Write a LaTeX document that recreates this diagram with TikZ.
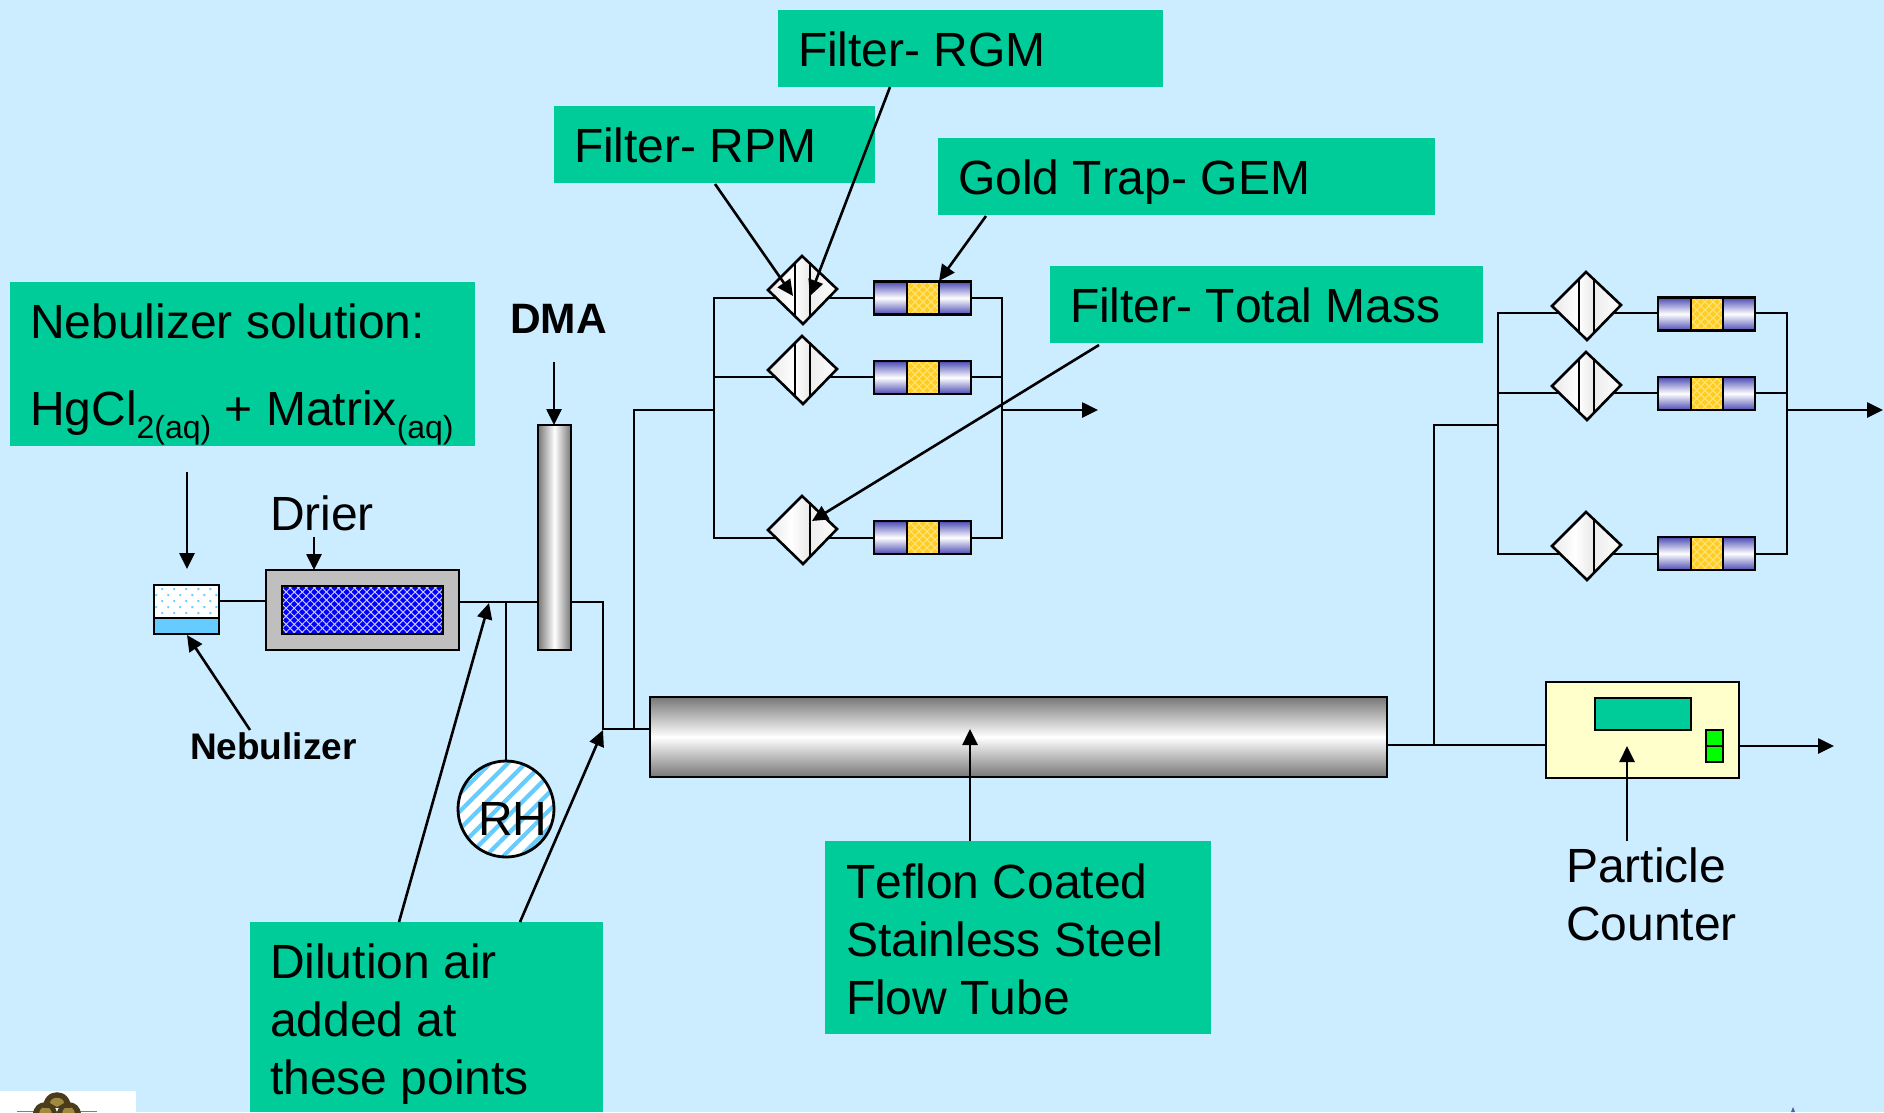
\documentclass[tikz,border=0pt]{standalone}
\usepackage{fontspec}
\setmainfont[Kerning=Off,Ligatures=NoCommon]{Liberation Sans}
\usetikzlibrary{arrows.meta,patterns.meta,calc}
\definecolor{bgblue}{HTML}{CCECFF}
\definecolor{teal}{HTML}{00CC99}
\definecolor{skyb}{HTML}{66CCFF}
\definecolor{graybox}{HTML}{BFBFBF}
\definecolor{capblue}{HTML}{4A4AB4}
\definecolor{gold}{HTML}{FFCC22}
\definecolor{goldl}{HTML}{FFE680}
\definecolor{cream}{HTML}{FFFFCC}
\definecolor{lime}{HTML}{00FF00}
\definecolor{tubeg}{HTML}{777777}
\definecolor{logod}{HTML}{4A3B1A}
\definecolor{logog}{HTML}{A08A40}
\definecolor{logob}{HTML}{8A7A70}
\tikzset{
  every node/.append style={outer sep=0pt},
  lbl/.style={anchor=base west,inner sep=0pt,font=\fontsize{48}{48}\selectfont},
  blbl/.style={anchor=base west,inner sep=0pt,font=\bfseries\fontsize{#1}{#1}\selectfont},
  gbox/.style={anchor=north west,inner sep=0pt,fill=teal,draw=none},
  pipe/.style={draw=black,line width=2.6pt},
  arr/.style={draw=black,line width=2.6pt,-{Triangle[length=16pt,width=15pt]}},
  pics/filterdia/.style={code={
    \begin{scope}
      \clip (-35,0) -- (-1,-34) -- (34,-1) -- (0,34) -- cycle;
      \shade[left color=black!9,right color=white] (-36,-36) rectangle (-8,36);
      \shade[left color=white,right color=black!9] (-8,-36) rectangle (7,36);
      \shade[left color=black!7,right color=white] (7,-36) rectangle (36,36);
      \draw[line width=2.6pt] (-8,-36) -- (-8,36);
      \draw[line width=2.6pt] (7,-36) -- (7,36);
    \end{scope}
    \draw[line width=2.6pt,line join=miter] (-35,0) -- (-1,-34) -- (34,-1) -- (0,34) -- cycle;
  }},
  pics/filterdiaone/.style={code={
    \begin{scope}
      \clip (-35,0) -- (-1,-34) -- (34,-1) -- (0,34) -- cycle;
      \shade[left color=black!9,right color=white] (-36,-36) rectangle (-12,36);
      \shade[left color=white,right color=black!9] (-12,-36) rectangle (7,36);
      \shade[left color=black!7,right color=white] (7,-36) rectangle (36,36);
      \draw[line width=2.6pt] (7,-36) -- (7,36);
    \end{scope}
    \draw[line width=2.6pt,line join=miter] (-35,0) -- (-1,-34) -- (34,-1) -- (0,34) -- cycle;
  }},
  pics/goldtrap/.style={code={
    \shade[top color=capblue,bottom color=capblue,middle color=white] (0,-16.5) rectangle (33,16.5);
    \shade[top color=capblue,bottom color=capblue,middle color=white] (65,-16.5) rectangle (97,16.5);
    \fill[gold] (33,-16.5) rectangle (65,16.5);
    \fill[pattern={Lines[angle=45,distance=5.7pt,line width=1pt]},pattern color=goldl] (33,-16.5) rectangle (65,16.5);
    \fill[pattern={Lines[angle=-45,distance=5.7pt,line width=1pt]},pattern color=goldl] (33,-16.5) rectangle (65,16.5);
    \draw[line width=2.8pt] (0,-16.5) rectangle (97,16.5);
    \draw[line width=2.8pt] (33,-16.5) -- (33,16.5) (65,-16.5) -- (65,16.5);
  }}
}
\begin{document}
\begin{tikzpicture}[x=1pt,y=-1pt]
\useasboundingbox (0,0) rectangle (1884,1112);
\fill[bgblue] (0,0) rectangle (1884,1112);

% logo fragments
\fill[white] (0,1091) rectangle (136,1112);
\fill[logob] (17,1110.5) rectangle (97,1112);
\fill[logod] (33,1115) .. controls (33,1098) and (57,1098) .. (57,1115) -- cycle;
\fill[logod] (57,1115) .. controls (57,1098) and (81,1098) .. (81,1115) -- cycle;
\fill[logog] (39,1115) .. controls (39,1104) and (52,1104) .. (52,1115) -- cycle;
\fill[logog] (62,1115) .. controls (62,1104) and (75,1104) .. (75,1115) -- cycle;
\fill[logod] (43,1108) .. controls (43,1087) and (71,1087) .. (71,1108) -- cycle;
\fill[logog] (50,1103) .. controls (50,1096) and (64,1096) .. (64,1103) -- (57,1107) -- cycle;
\fill[gray!70!blue] (1791,1112) -- (1793,1107) -- (1795,1112) -- cycle;

% label boxes
\node[gbox,minimum width=385pt,minimum height=77pt] (bRGM) at (778,10) {};
\node[gbox,minimum width=321pt,minimum height=77pt] (bRPM) at (554,106) {};
\node[gbox,minimum width=497pt,minimum height=77pt] (bGold) at (938,138) {};
\node[gbox,minimum width=433pt,minimum height=77pt] (bTotal) at (1050,266) {};
\node[gbox,minimum width=465pt,minimum height=164pt] (bNeb) at (10,282) {};
\node[gbox,minimum width=353pt,minimum height=190pt] (bDil) at (250,922) {};
\node[gbox,minimum width=386pt,minimum height=193pt] (bTef) at (825,841) {};

% named points
\coordinate (feedTop) at (634,410);
\coordinate (feedBot) at (634,729);
\coordinate (elbow) at (603,729);
\coordinate (elbowTop) at (603,602);
\coordinate (outA) at (1002,410);
\coordinate (outAend) at (1098,410);
\coordinate (tubeOut) at (1434,745);
\coordinate (feedBTop) at (1434,425);
\coordinate (feedBJoin) at (1498,425);
\coordinate (outB) at (1787,410);
\coordinate (outBend) at (1883,410);
\coordinate (cntOut) at (1834,746);

% components of the flow line
\node[draw=black,line width=2.8pt,fill=white,minimum width=65pt,minimum height=33pt,inner sep=0pt,anchor=north west] (nebTop) at (154,585) {};
\fill[pattern={Dots[angle=45,distance=8.5pt,radius=1.3pt]},pattern color=skyb] (nebTop.south west) rectangle (nebTop.north east);
\node[draw=black,line width=2.8pt,fill=skyb,minimum width=65pt,minimum height=16pt,inner sep=0pt,anchor=north west] (nebBot) at (154,618) {};
\draw[line width=2.8pt] (nebTop.south west) rectangle (nebTop.north east);

\node[draw=black,line width=2.8pt,fill=graybox,minimum width=193pt,minimum height=80pt,inner sep=0pt,anchor=north west] (drier) at (266,570) {};
\node[draw=black,line width=2.8pt,fill=blue,minimum width=161pt,minimum height=48pt,inner sep=0pt,anchor=north west] (drierIn) at (282,586) {};
\fill[pattern={Lines[angle=45,distance=5.7pt,line width=1pt]},pattern color=white!80!blue] (drierIn.south west) rectangle (drierIn.north east);
\fill[pattern={Lines[angle=-45,distance=5.7pt,line width=1pt]},pattern color=white!80!blue] (drierIn.south west) rectangle (drierIn.north east);
\draw[line width=2.8pt] (drierIn.south west) rectangle (drierIn.north east);

\node[draw=none,minimum width=33pt,minimum height=225pt,inner sep=0pt,anchor=north west,left color=tubeg,right color=tubeg,middle color=white] (dma) at (538,425) {};
\draw[line width=2.8pt] (dma.south west) rectangle (dma.north east);

\node[draw=none,minimum width=737pt,minimum height=80pt,inner sep=0pt,anchor=north west,top color=tubeg,bottom color=tubeg,middle color=white] (tube) at (650,697) {};
\draw[line width=2.8pt] (tube.south west) rectangle (tube.north east);

\node[draw=black,line width=2.8pt,fill=cream,minimum width=193pt,minimum height=96pt,inner sep=0pt,anchor=north west] (counter) at (1546,682) {};
\node[draw=black,line width=2.8pt,fill=teal,minimum width=96pt,minimum height=32pt,inner sep=0pt,anchor=north west] (display) at (1595,698) {};
\node[draw=black,line width=2.8pt,fill=lime,minimum width=17pt,minimum height=16pt,inner sep=0pt,anchor=north west] (ledA) at (1706,730) {};
\node[draw=black,line width=2.8pt,fill=lime,minimum width=17pt,minimum height=16pt,inner sep=0pt,anchor=north west] (ledB) at (1706,746) {};

\node[circle,draw=none,fill=white,minimum size=96pt,inner sep=0pt] (rh) at (506,809) {};
\fill[pattern={Lines[angle=45,distance=12.5pt,line width=4.2pt]},pattern color=skyb] (rh.center) circle[radius=47];
\draw[line width=2.8pt] (rh.center) circle[radius=48];

% pipes
\coordinate (rhTap) at (506,602);
\draw[pipe] (nebTop.east) ++(0,-0.5) coordinate (nebOut) -- (drier.west |- nebOut);
\draw[pipe] (drier.east |- 0,602) coordinate (drierE) -- (dma.west |- drierE);
\draw[pipe] (rhTap) -- (rh.north);
\draw[pipe,line join=miter] (dma.east |- elbowTop) -- (elbowTop) -- (elbow) -- (tube.west |- elbow);
\draw[pipe,line join=miter] (feedBot) -- (feedTop) -- (714,410) coordinate (feedJoin);
\draw[pipe] (tube.east |- tubeOut) -- (counter.west |- tubeOut);
\draw[pipe,line join=miter] (tubeOut) -- (feedBTop) -- (feedBJoin);

% first filter bank
\begin{scope}[name prefix=a-]
  \coordinate (tl) at (714,298); \coordinate (ml) at (714,377); \coordinate (bl) at (714,538);
  \coordinate (tr) at (1002,298); \coordinate (mr) at (1002,377); \coordinate (br) at (1002,538);
  \draw[pipe,line join=miter] (tr) -- (tl) -- (bl) -- (br) -- cycle;
  \draw[pipe] (ml) -- (mr);
  \pic (d1) at (803,290) {filterdia};
  \pic (d2) at (803,370) {filterdia};
  \pic (d3) at (803,530) {filterdiaone};
  \pic (g1) at (874,298) {goldtrap};
  \pic (g2) at (874,377.5) {goldtrap};
  \pic (g3) at (874,537.5) {goldtrap};
\end{scope}
% second filter bank
\begin{scope}[name prefix=b-]
  \coordinate (tl) at (1498,313); \coordinate (ml) at (1498,393); \coordinate (bl) at (1498,554);
  \coordinate (tr) at (1787,313); \coordinate (mr) at (1787,393); \coordinate (br) at (1787,554);
  \draw[pipe,line join=miter] (tr) -- (tl) -- (bl) -- (br) -- cycle;
  \draw[pipe] (ml) -- (mr);
  \pic (d1) at (1587,306) {filterdia};
  \pic (d2) at (1587,386) {filterdia};
  \pic (d3) at (1587,546) {filterdiaone};
  \pic (g1) at (1658,314) {goldtrap};
  \pic (g2) at (1658,393.5) {goldtrap};
  \pic (g3) at (1658,553.5) {goldtrap};
\end{scope}
\draw[arr] (outB) -- (outBend);
\draw[arr] (outA) -- (outAend);
\draw[arr] (counter.east |- cntOut) -- (cntOut);

% pointer arrows
\coordinate (s1) at (187,472); \coordinate (t1) at (187,569);
\coordinate (s2) at (314,537); \coordinate (t2) at (314,570);
\coordinate (s3) at (250,730); \coordinate (t3) at (187,635);
\coordinate (s4) at (554,362); \coordinate (t4) at (554,425);
\coordinate (s5) at (399,922); \coordinate (t5) at (489,603);
\coordinate (s6) at (520,922); \coordinate (t6) at (603,730);
\coordinate (s7) at (715,184); \coordinate (t7) at (793,296);
\coordinate (s8) at (890,87); \coordinate (t8) at (810,296);
\coordinate (s9) at (986,216); \coordinate (t9) at (939,281);
\coordinate (s10) at (1099,345); \coordinate (t10) at (812,521);
\coordinate (s11) at (970,841); \coordinate (t11) at (970,729);
\coordinate (s12) at (1627,841); \coordinate (t12) at (1627,746);
\foreach \k in {1,...,12} {\draw[arr] (s\k) -- (t\k);}

% texts
\node[lbl] (tRGM) at (798,66) {Filter- RGM};
\node[lbl] (tRPM) at (574,162) {Filter- RPM};
\node[lbl] (tGold) at (958,194) {Gold Trap- GEM};
\node[lbl] (tTotal) at (1070,322) {Filter- Total Mass};
\node[lbl] (tNeb) at (30,338) {Nebulizer solution:};
\node[lbl] (tHg) at (30,425) {HgCl{\fontsize{32}{32}\selectfont\raisebox{-13pt}{2(aq)}} + Matrix{\fontsize{32}{32}\selectfont\raisebox{-13pt}{(aq)}}};
\node[blbl=42.5] (tDMA) at (510,333) {DMA};
\node[lbl] (tDrier) at (270,530) {Drier};
\node[blbl=37] (tNebu) at (190,759) {Nebulizer};
\node[lbl,anchor=base] (tRH) at (513,835) {RH};
\node[lbl] (tD1) at (270,978) {Dilution air};
\node[lbl] (tD2) at (270,1036) {added at};
\node[lbl] (tD3) at (270,1094) {these points};
\node[lbl] (tT1) at (846,898) {Teflon Coated};
\node[lbl] (tT2) at (846,956) {Stainless Steel};
\node[lbl] (tT3) at (846,1014) {Flow Tube};
\node[lbl] (tP1) at (1566,882) {Particle};
\node[lbl] (tP2) at (1566,940) {Counter};
\end{tikzpicture}
\end{document}
